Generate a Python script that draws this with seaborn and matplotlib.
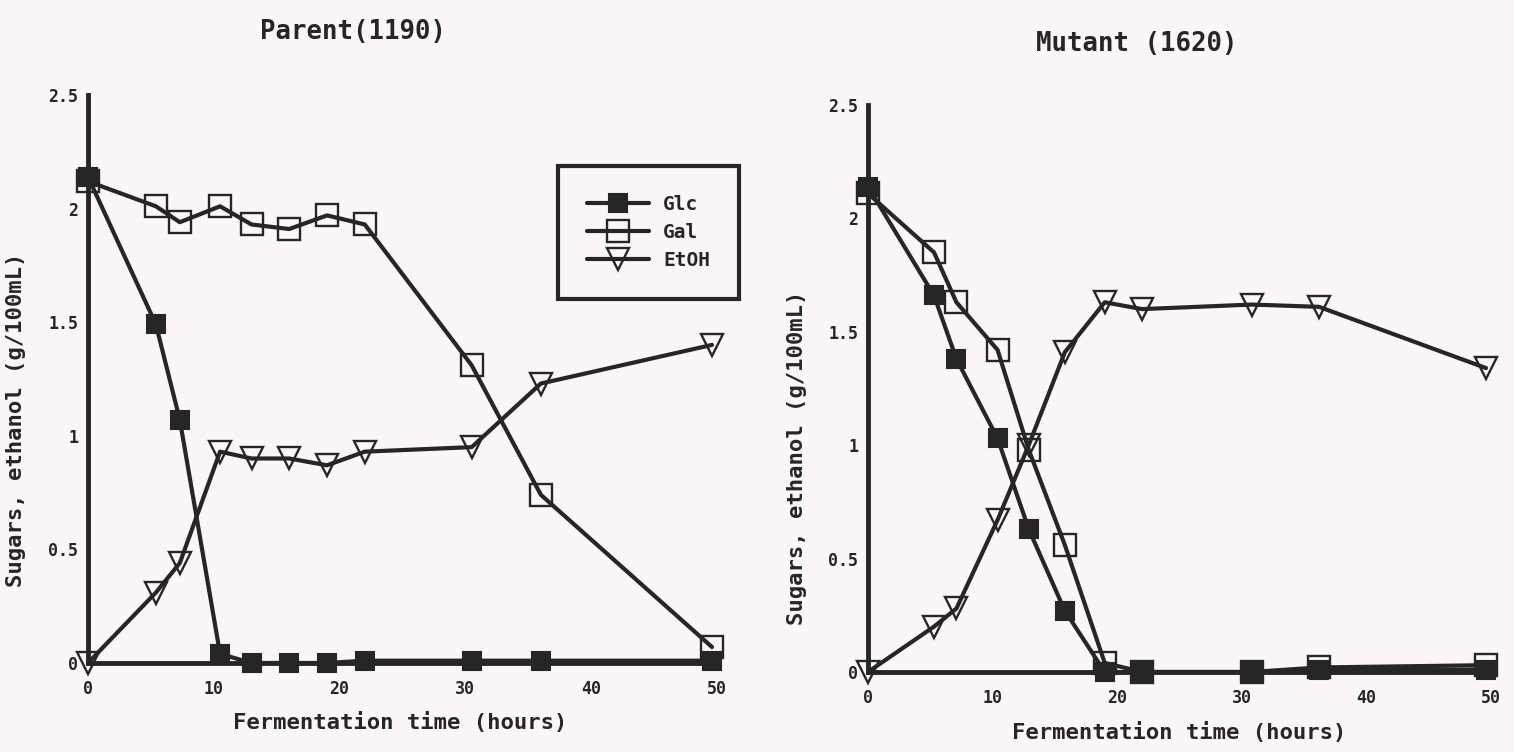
import matplotlib
matplotlib.use("Agg")
import matplotlib.pyplot as plt
from matplotlib.lines import Line2D
import seaborn as sns
import pandas as pd

# Fermentation time (hours) and concentrations (g/100 mL)
parent_time = [0, 5.4, 7.3, 10.5, 13, 16, 19, 22, 30.5, 36, 49.6]
parent_glc = [2.14, 1.49, 1.07, 0.04, 0.0, 0.0, 0.0, 0.01, 0.01, 0.01, 0.01]
parent_gal = [2.12, 2.01, 1.94, 2.01, 1.93, 1.91, 1.97, 1.93, 1.31, 0.74, 0.07]
parent_etoh = [0.0, 0.31, 0.44, 0.93, 0.90, 0.90, 0.87, 0.93, 0.95, 1.23, 1.40]

mutant_time = [0, 5.3, 7.1, 10.4, 12.9, 15.8, 19, 22, 30.8, 36.2, 49.6]
mutant_glc = [2.14, 1.66, 1.38, 1.03, 0.63, 0.27, 0.0, 0.0, 0.0, 0.01, 0.01]
mutant_gal = [2.11, 1.85, 1.63, 1.42, 0.98, 0.56, 0.04, 0.0, 0.0, 0.02, 0.03]
mutant_etoh = [0.0, 0.20, 0.28, 0.67, 1.00, 1.41, 1.63, 1.60, 1.62, 1.61, 1.34]

series_names = ["Glc", "Gal", "EtOH"]
x_ticks = [0, 10, 20, 30, 40, 50]
y_ticks = [0, 0.5, 1, 1.5, 2, 2.5]
y_tick_labels = ["0", "0.5", "1", "1.5", "2", "2.5"]

INK = "#262626"
PAPER = "#fcf6f7"

sns.set_style("white")
plt.rcParams["font.family"] = ["DejaVu Sans Mono", "DejaVu Sans"]
plt.rcParams["font.weight"] = "bold"

fig = plt.figure(figsize=(15.14, 7.52), dpi=100, facecolor=PAPER)

marker_styles = {
    "Glc": dict(marker="s", markersize=12.5, markerfacecolor=INK, markeredgecolor=INK, markeredgewidth=1.5),
    "Gal": dict(marker="s", markersize=16.5, markerfacecolor="none", markeredgecolor=INK, markeredgewidth=1.7),
    "EtOH": dict(marker="v", markersize=16.5, markerfacecolor="none", markeredgecolor=INK, markeredgewidth=1.7),
}


def draw_panel(ax, time, glc, gal, etoh):
    df = pd.DataFrame({"time": time, "Glc": glc, "Gal": gal, "EtOH": etoh})
    for name in series_names:
        sns.lineplot(data=df, x="time", y=name, ax=ax, color=INK, linewidth=3.0,
                     clip_on=False, zorder=3, **marker_styles[name])
    ax.set_facecolor(PAPER)
    ax.set_xlim(0, 50)
    ax.set_ylim(0, 2.5)
    ax.set_xticks(x_ticks)
    ax.set_yticks(y_ticks)
    ax.set_yticklabels(y_tick_labels)
    ax.set_xlabel("")
    ax.set_ylabel("")
    for side in ["top", "right"]:
        ax.spines[side].set_visible(False)
    for side in ["left", "bottom"]:
        ax.spines[side].set_linewidth(3.5)
        ax.spines[side].set_color(INK)
        ax.spines[side].set_zorder(4)
    ax.tick_params(axis="x", direction="out", length=4, width=2, color=INK,
                   labelsize=12, labelcolor=INK, pad=8)
    ax.tick_params(axis="y", direction="out", length=4, width=2, color=INK,
                   labelsize=12, labelcolor=INK, pad=3)
    for lbl in ax.get_xticklabels() + ax.get_yticklabels():
        lbl.set_fontweight("bold")


ax1 = fig.add_axes([0.0581, 0.1184, 0.4155, 0.7553])
draw_panel(ax1, parent_time, parent_glc, parent_gal, parent_etoh)

ax2 = fig.add_axes([0.5733, 0.1064, 0.4115, 0.7540])
draw_panel(ax2, mutant_time, mutant_glc, mutant_gal, mutant_etoh)

handles = [Line2D([0], [0], color=INK, linewidth=3.0, **marker_styles[n]) for n in series_names]
leg = ax1.legend(handles, series_names, loc="upper left", bbox_to_anchor=(0.747, 0.875),
                 frameon=True, fancybox=False, framealpha=1, fontsize=14, handlelength=3.2,
                 borderpad=1.5, labelspacing=0.45, handletextpad=0.7, borderaxespad=0)
leg.set_clip_on(False)
leg.get_frame().set_edgecolor(INK)
leg.get_frame().set_linewidth(3.0)
leg.get_frame().set_facecolor(PAPER)
for t in leg.get_texts():
    t.set_fontweight("bold")
    t.set_color(INK)

title_kw = dict(fontsize=18.5, fontweight="bold", color=INK, ha="center", va="center")
fig.text(353 / 1514, 1 - 32 / 752, "Parent(1190)", **title_kw)
fig.text(1137 / 1514, 1 - 44 / 752, "Mutant (1620)", **title_kw)

label_kw = dict(fontsize=16, fontweight="bold", color=INK, ha="center", va="center")
fig.text(400 / 1514, 1 - 722 / 752, "Fermentation time (hours)", **label_kw)
fig.text(1179 / 1514, 1 - 732 / 752, "Fermentation time (hours)", **label_kw)
fig.text(16 / 1514, 1 - 420 / 752, "Sugars, ethanol (g/100mL)", rotation=90, **label_kw)
fig.text(797 / 1514, 1 - 458 / 752, "Sugars, ethanol (g/100mL)", rotation=90, **label_kw)

fig.savefig("out.png", dpi=100, facecolor=PAPER)
